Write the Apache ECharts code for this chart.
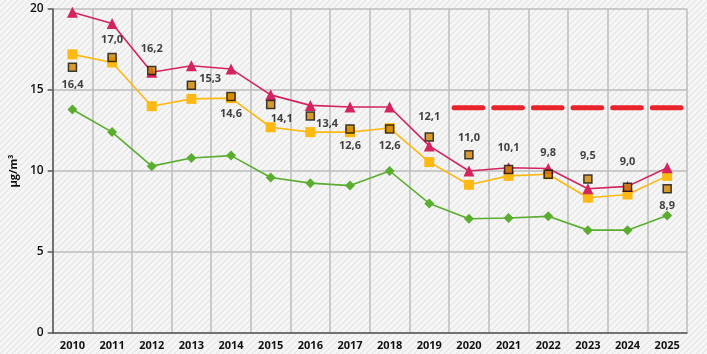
<!DOCTYPE html>
<html>
<head>
<meta charset="utf-8">
<script src="https://cdn.jsdelivr.net/npm/echarts@6/dist/echarts.min.js"></script>
<style>
  html, body { margin: 0; padding: 0; }
  #chart { width: 707px; height: 354px; }
</style>
</head>
<body>
<div id="chart"></div>
<script>
const years = ["2010", "2011", "2012", "2013", "2014", "2015", "2016", "2017", "2018", "2019", "2020", "2021", "2022", "2023", "2024", "2025"];
const redSeries = [19.8, 19.1, 16.1, 16.5, 16.3, 14.7, 14.05, 13.95, 13.95, 11.55, 10.0, 10.2, 10.15, 8.9, 9.05, 10.2];
const orangeSeries = [17.2, 16.7, 14.0, 14.45, 14.5, 12.7, 12.4, 12.4, 12.65, 10.55, 9.15, 9.7, 9.8, 8.35, 8.55, 9.7];
const greenSeries = [13.8, 12.4, 10.3, 10.8, 10.95, 9.6, 9.25, 9.1, 10.0, 8.0, 7.05, 7.1, 7.2, 6.35, 6.35, 7.25];
const measured = [16.4, 17.0, 16.2, 15.3, 14.6, 14.1, 13.4, 12.6, 12.6, 12.1, 11.0, 10.1, 9.8, 9.5, 9.0, 8.9];
const targetValue = [null, null, null, null, null, null, null, null, null, null, 13.9, 13.9, 13.9, 13.9, 13.9, 13.9];
const yTicks = [0, 5, 10, 15, 20];

// label placement around each measured marker (offsets in px)
const labelPos = ["bottom", "top", "top", "right", "bottom", "bottom", "right", "bottom", "bottom", "top", "top", "top", "top", "top", "top", "bottom"];
const labelShift = [[0, 0], [0, 0], [0, -4], [-4, -6], [0, 0], [11, -3], [-6, 8], [0, 0], [0, 0], [0, -3], [0, 0], [0, -4], [0, -4], [0, -6], [0, -8], [0, 0]];

// hatched background
const pat = document.createElement("canvas");
pat.width = 6; pat.height = 6;
const pc = pat.getContext("2d");
pc.fillStyle = "#f6f6f6";
pc.fillRect(0, 0, 6, 6);
pc.strokeStyle = "#e4e4e4";
pc.lineWidth = 1.2;
pc.beginPath();
for (let k = -6; k <= 12; k += 6) { pc.moveTo(k, 6); pc.lineTo(k + 6, 0); }
pc.stroke();

const font = "Open Sans";
const chart = echarts.init(document.getElementById("chart"));
chart.setOption({
  animation: false,
  backgroundColor: { image: pat, repeat: "repeat" },
  grid: { left: 48, right: 20, top: 9, bottom: 21 },
  xAxis: {
    type: "category",
    data: years,
    boundaryGap: true,
    axisLine: { lineStyle: { color: "#555", width: 1.5 } },
    axisTick: { length: 5, lineStyle: { color: "#555", width: 1.5 } },
    axisLabel: { color: "#111", fontFamily: font, fontWeight: "bold", fontSize: 11, margin: 7, interval: 0 },
    splitLine: { show: true, interval: 0, lineStyle: { color: "#bdbdbd", width: 1.5 } }
  },
  yAxis: {
    type: "value",
    min: yTicks[0],
    max: yTicks[yTicks.length - 1],
    interval: 5,
    name: "µg/m³",
    nameLocation: "middle",
    nameGap: 23,
    nameTextStyle: { color: "#111", fontFamily: font, fontSize: 11, fontWeight: "bold" },
    axisLine: { show: true, lineStyle: { color: "#555", width: 1.5 } },
    axisTick: { show: true, length: 5, lineStyle: { color: "#555", width: 1.5 } },
    axisLabel: { color: "#111", fontFamily: font, fontWeight: 600, fontSize: 12, margin: 9 },
    splitLine: { lineStyle: { color: "#bdbdbd", width: 1.5 } }
  },
  series: [
    {
      type: "custom",
      data: targetValue.map((v, i) => [i, v]),
      renderItem(params, api) {
        const v = api.value(1);
        if (v == null || isNaN(v)) return null;
        const c = api.coord([api.value(0), v]);
        const w = api.size([1, 0])[0];
        return {
          type: "line",
          shape: { x1: c[0] - w / 2 + 5, y1: c[1], x2: c[0] + w / 2 - 6, y2: c[1] },
          style: { stroke: "#e8232a", lineWidth: 5, lineCap: "round" }
        };
      },
      z: 1
    },
    {
      type: "line", data: greenSeries, symbol: "diamond", symbolSize: 10,
      itemStyle: { color: "#5bad2f" }, lineStyle: { color: "#5bad2f", width: 1.6 }, z: 2
    },
    {
      type: "line", data: orangeSeries, symbol: "rect", symbolSize: 10,
      itemStyle: { color: "#fdb913" }, lineStyle: { color: "#fdb913", width: 1.6 }, z: 3
    },
    {
      type: "line", data: redSeries, symbol: "triangle", symbolSize: 11,
      itemStyle: { color: "#d4245f" }, lineStyle: { color: "#d4245f", width: 1.6 }, z: 4
    },
    {
      type: "scatter",
      data: measured.map((v, i) => ({ value: v, label: { position: labelPos[i], offset: labelShift[i] } })),
      symbol: "rect", symbolSize: 8,
      itemStyle: { color: "#d08400", borderColor: "#111", borderWidth: 1.5 },
      label: {
        show: true, distance: 7, color: "#111", fontFamily: font, fontWeight: "bold", fontSize: 11,
        formatter: p => p.value.toFixed(1).replace(".", ",")
      },
      z: 5
    }
  ]
});
</script>
</body>
</html>
